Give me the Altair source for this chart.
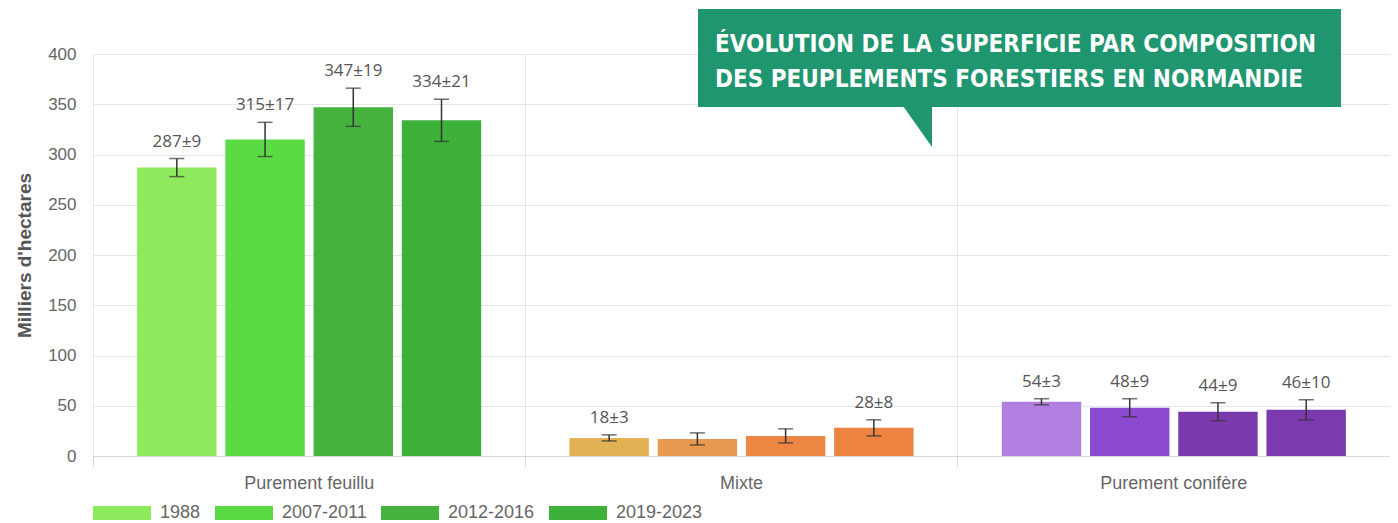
import altair as alt
import pandas as pd

groupes = ["Purement feuillu", "Mixte", "Purement conifère"]
periodes = ["1988", "2007-2011", "2012-2016", "2019-2023"]

valeurs_feuillu = [287, 315, 347, 334]
erreurs_feuillu = [9, 17, 19, 21]
valeurs_mixte = [18, 17, 20, 28]
erreurs_mixte = [3, 6, 7, 8]
valeurs_conifere = [54, 48, 44, 46]
erreurs_conifere = [3, 9, 9, 10]

etiquettes_mixte_visibles = [True, False, False, True]

couleurs_feuillu = ["#8eea5c", "#5cda45", "#45b33e", "#3eb13b"]
couleurs_mixte = ["#e2b153", "#e8984f", "#ec8642", "#ec8341"]
couleurs_conifere = ["#b17fdf", "#8b4acf", "#7a39ad", "#7b3aae"]

titre_ligne1 = "ÉVOLUTION DE LA SUPERFICIE PAR COMPOSITION"
titre_ligne2 = "DES PEUPLEMENTS FORESTIERS EN NORMANDIE"

rows = []
series = [
    (groupes[0], valeurs_feuillu, erreurs_feuillu, [True] * 4),
    (groupes[1], valeurs_mixte, erreurs_mixte, etiquettes_mixte_visibles),
    (groupes[2], valeurs_conifere, erreurs_conifere, [True] * 4),
]
for g, vals, errs, vis in series:
    for p, v, e, s in zip(periodes, vals, errs, vis):
        rows.append({
            "groupe": g, "periode": p, "cle": f"{g}|{p}",
            "valeur": v, "bas": v - e, "haut": v + e,
            "etiquette": f"{v}±{e}" if s else "",
        })
df = pd.DataFrame(rows)

cles = [f"{g}|{p}" for g in groupes for p in periodes]
couleurs = couleurs_feuillu + couleurs_mixte + couleurs_conifere

FONT = "Liberation Sans"

base = alt.Chart(df).encode(
    x=alt.X(
        "groupe:N", sort=groupes, title=None,
        scale=alt.Scale(paddingInner=0, paddingOuter=0),
        axis=alt.Axis(
            labelAngle=0, labelFontSize=18, labelColor="#666", labelFont=FONT,
            labelPadding=8, grid=True, gridColor="#e6e6e6", bandPosition=0,
            ticks=True, tickSize=10, tickColor="#ccd6eb", domainColor="#d8d8d8",
        ),
    ),
    xOffset=alt.XOffset("periode:N", sort=periodes,
                        scale=alt.Scale(paddingInner=0.1, paddingOuter=0.5)),
)

bars = base.mark_bar().encode(
    y=alt.Y(
        "valeur:Q", title="Milliers d'hectares",
        scale=alt.Scale(domain=[0, 400], nice=False),
        axis=alt.Axis(
            values=list(range(0, 401, 50)), grid=True, gridColor="#e6e6e6",
            domain=False, ticks=False, labelFontSize=17, labelColor="#666",
            labelFont=FONT, labelPadding=17, titleFont=FONT, titleFontSize=19,
            titleFontWeight="bold", titleColor="#555", titlePadding=13,
        ),
    ),
    color=alt.Color(
        "cle:N",
        scale=alt.Scale(domain=cles, range=couleurs),
        legend=alt.Legend(
            title=None,
            values=cles[:4],
            labelExpr="split(datum.label, '|')[1]",
            orient="none", legendX=0, legendY=430,
            direction="horizontal",
            symbolType="M-1,-0.24H1V0.24H-1Z",
            symbolSize=3364, symbolStrokeWidth=0, symbolOpacity=1,
            labelFontSize=18, labelColor="#666", labelFont=FONT,
            labelOffset=9, columnPadding=14,
        ),
    ),
)

rule = base.mark_rule(color="#333", strokeWidth=1.5).encode(
    y="bas:Q", y2="haut:Q")
cap_top = base.mark_tick(color="#333", thickness=1.5, size=15).encode(y="haut:Q")
cap_bot = base.mark_tick(color="#333", thickness=1.5, size=15).encode(y="bas:Q")

labels = base.transform_filter("datum.etiquette != ''").mark_text(
    dy=-17, fontSize=17, color="#555", font="Open Sans", baseline="middle"
).encode(y="haut:Q", text="etiquette:N")

deco = alt.Chart(pd.DataFrame({"t": [titre_ligne1]}))
boite = deco.mark_rect(color="#1f9670").encode(
    x=alt.value(605), x2=alt.value(1248), y=alt.value(-45), y2=alt.value(53))
pointe = deco.mark_point(
    shape="M-0.725,-1.05L0.725,-1.05L0.725,1Z", filled=True, fill="#1f9670",
    opacity=1, strokeWidth=0, size=1600,
).encode(x=alt.value(824.5), y=alt.value(73))
TFONT = "DejaVu Sans Condensed"
ligne1 = deco.mark_text(
    align="left", baseline="alphabetic", font=TFONT, fontWeight="bold",
    fontSize=24, color="white",
).encode(x=alt.value(622), y=alt.value(-2), text=alt.value(titre_ligne1))
ligne2 = deco.mark_text(
    align="left", baseline="alphabetic", font=TFONT, fontWeight="bold",
    fontSize=24, color="white",
).encode(x=alt.value(622), y=alt.value(33), text=alt.value(titre_ligne2))

chart = alt.layer(bars, rule, cap_top, cap_bot, labels,
                  boite, pointe, ligne1, ligne2).properties(
    width=1297, height=402,
    autosize=alt.AutoSizeParams(type="none"),
    padding={"left": 85, "top": 46, "right": 0, "bottom": 67},
).configure_view(stroke=None).configure(background="white")

chart.save("out.html", embed_options={"renderer": "svg", "actions": False})
